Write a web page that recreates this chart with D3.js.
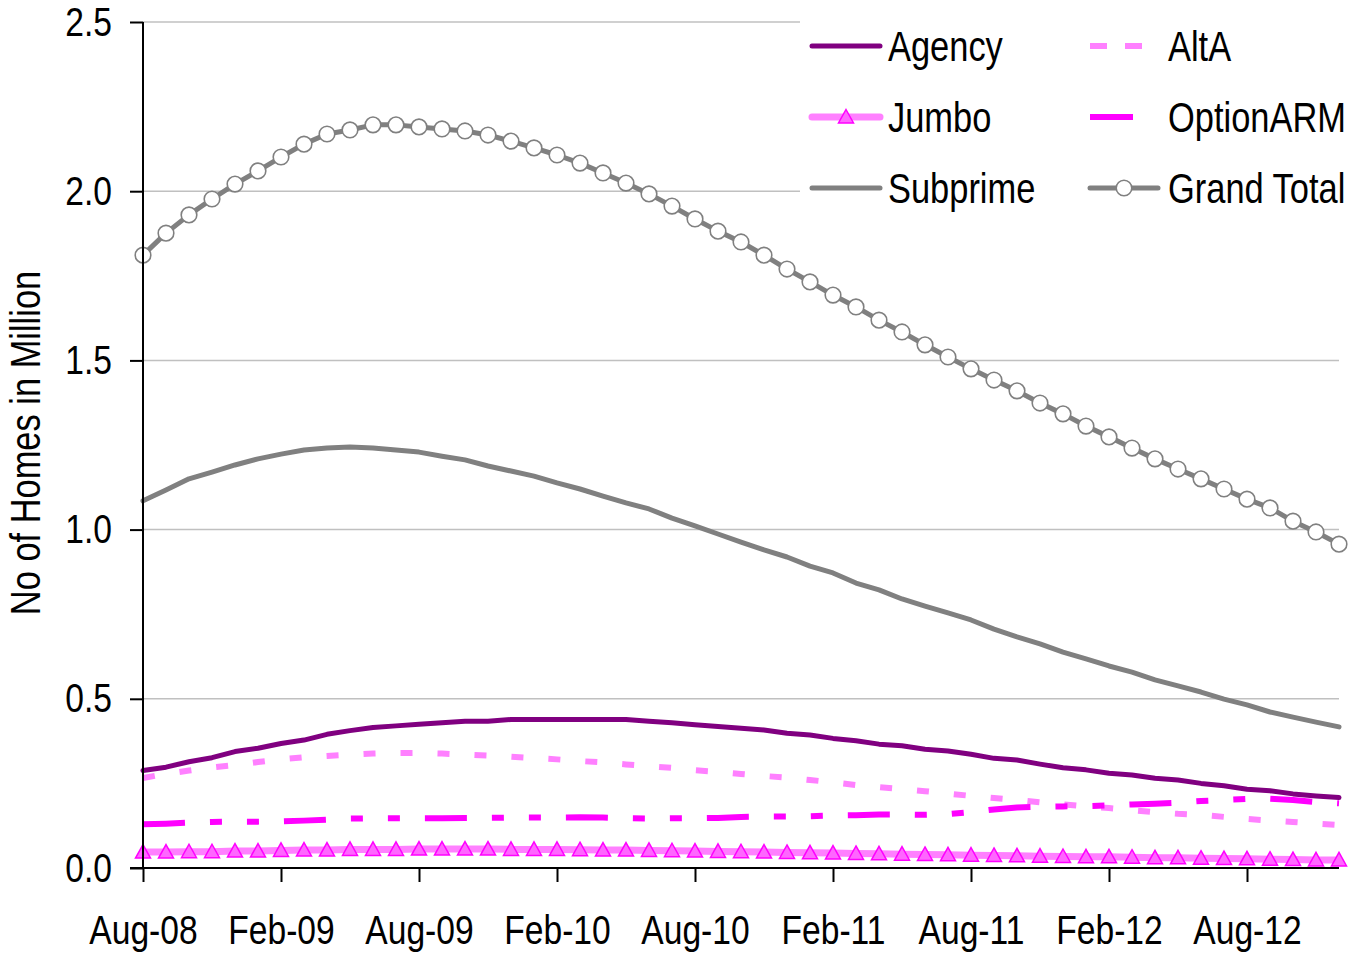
<!DOCTYPE html>
<html>
<head>
<meta charset="utf-8">
<script src="https://cdn.jsdelivr.net/npm/d3@7"></script>
<style>
  html, body { margin: 0; padding: 0; background: #fff; }
  svg text { font-family: 'Liberation Sans', Arial, sans-serif; fill: #000; }
</style>
</head>
<body>
<svg id="chart" width="1355" height="954"></svg>
<script>
// Monthly categories, Aug-08 through Dec-12
const months = [
  "Aug-08","Sep-08","Oct-08","Nov-08","Dec-08",
  "Jan-09","Feb-09","Mar-09","Apr-09","May-09","Jun-09","Jul-09","Aug-09","Sep-09","Oct-09","Nov-09","Dec-09",
  "Jan-10","Feb-10","Mar-10","Apr-10","May-10","Jun-10","Jul-10","Aug-10","Sep-10","Oct-10","Nov-10","Dec-10",
  "Jan-11","Feb-11","Mar-11","Apr-11","May-11","Jun-11","Jul-11","Aug-11","Sep-11","Oct-11","Nov-11","Dec-11",
  "Jan-12","Feb-12","Mar-12","Apr-12","May-12","Jun-12","Jul-12","Aug-12","Sep-12","Oct-12","Nov-12","Dec-12"
];

// Labelled x ticks
const xTickLabels = ["Aug-08","Feb-09","Aug-09","Feb-10","Aug-10","Feb-11","Aug-11","Feb-12","Aug-12"];
const yTicks = [0, 0.5, 1.0, 1.5, 2.0, 2.5];

// Homes (millions) by loan type
const agency = [0.288,0.298,0.314,0.326,0.344,0.354,0.368,0.378,0.395,0.406,0.415,0.420,0.425,0.429,0.434,0.434,0.439,0.439,0.439,0.439,0.439,0.439,0.434,0.429,0.423,0.418,0.413,0.408,0.398,0.393,0.383,0.376,0.366,0.361,0.351,0.346,0.336,0.324,0.319,0.307,0.296,0.290,0.280,0.275,0.265,0.260,0.250,0.243,0.233,0.228,0.219,0.213,0.208];
const altA = [0.266,0.278,0.288,0.297,0.304,0.313,0.321,0.327,0.331,0.335,0.338,0.340,0.340,0.338,0.335,0.332,0.329,0.325,0.321,0.316,0.312,0.306,0.301,0.296,0.289,0.284,0.278,0.272,0.267,0.260,0.253,0.245,0.239,0.233,0.227,0.220,0.213,0.207,0.201,0.194,0.188,0.182,0.177,0.171,0.165,0.160,0.157,0.151,0.145,0.140,0.136,0.131,0.127];
const jumbo = [0.047,0.047,0.048,0.048,0.050,0.050,0.052,0.053,0.053,0.055,0.055,0.055,0.056,0.056,0.056,0.056,0.055,0.055,0.055,0.054,0.053,0.053,0.052,0.051,0.050,0.049,0.048,0.047,0.046,0.045,0.044,0.043,0.042,0.041,0.040,0.039,0.038,0.037,0.036,0.035,0.034,0.033,0.033,0.032,0.030,0.030,0.029,0.028,0.027,0.026,0.025,0.024,0.024];
const optionARM = [0.129,0.131,0.134,0.136,0.137,0.137,0.138,0.140,0.143,0.146,0.147,0.147,0.147,0.147,0.148,0.148,0.149,0.149,0.149,0.150,0.149,0.147,0.146,0.147,0.147,0.148,0.151,0.152,0.152,0.153,0.155,0.156,0.158,0.158,0.157,0.159,0.165,0.173,0.179,0.181,0.182,0.183,0.185,0.188,0.190,0.193,0.198,0.201,0.204,0.205,0.201,0.195,0.191];
const subprime = [1.085,1.117,1.150,1.170,1.191,1.209,1.223,1.235,1.241,1.244,1.241,1.235,1.229,1.217,1.206,1.188,1.173,1.158,1.138,1.120,1.099,1.079,1.061,1.034,1.011,0.987,0.963,0.940,0.919,0.892,0.872,0.842,0.822,0.795,0.774,0.754,0.733,0.706,0.683,0.662,0.638,0.618,0.597,0.579,0.556,0.538,0.520,0.499,0.482,0.461,0.446,0.431,0.417];
const grandTotal = [1.811,1.876,1.930,1.977,2.021,2.060,2.101,2.139,2.169,2.181,2.196,2.196,2.190,2.184,2.178,2.166,2.148,2.128,2.107,2.083,2.054,2.024,1.992,1.956,1.918,1.882,1.850,1.811,1.770,1.732,1.693,1.658,1.619,1.584,1.546,1.510,1.475,1.442,1.410,1.374,1.342,1.306,1.274,1.241,1.209,1.179,1.150,1.120,1.090,1.064,1.025,0.993,0.957];

const seriesNames = ["Agency","AltA","Jumbo","OptionARM","Subprime","Grand Total"];

const styles = {
  "Agency":      { color: "#800080", width: 5, dash: null },
  "AltA":        { color: "#FF80FF", width: 6, dash: "12,25" },
  "Jumbo":       { color: "#FF80FF", width: 7, dash: null, marker: "triangle" },
  "OptionARM":   { color: "#FF00FF", width: 6, dash: "42,25,12,25,12,25" },
  "Subprime":    { color: "#808080", width: 5, dash: null },
  "Grand Total": { color: "#808080", width: 5, dash: null, marker: "circle" }
};

const seriesData = {
  "Agency": agency, "AltA": altA, "Jumbo": jumbo,
  "OptionARM": optionARM, "Subprime": subprime, "Grand Total": grandTotal
};

// Narrow type: regular sans squeezed horizontally
const NARROW = 0.82;
function narrow(sel) {
  sel.each(function () {
    const t = d3.select(this);
    const x0 = +t.attr("x") || 0, y0 = +t.attr("y") || 0;
    const pre = t.attr("data-pre") || "";
    t.attr("x", 0).attr("y", 0)
     .attr("transform", `translate(${x0},${y0}) ${pre} scale(${NARROW},1)`);
  });
}

const svg = d3.select("#chart");
const plotLeft = 143, plotRight = 1339, plotTop = 22, plotBottom = 868;

const x = d3.scalePoint().domain(months).range([plotLeft, plotRight]);
const y = d3.scaleLinear().domain([0, 2.5]).range([plotBottom, plotTop]);

// Horizontal gridlines
svg.append("g")
  .selectAll("line")
  .data(yTicks.filter(d => d > 0))
  .join("line")
  .attr("x1", plotLeft).attr("x2", plotRight)
  .attr("y1", d => y(d)).attr("y2", d => y(d))
  .attr("stroke", "#c0c0c0").attr("stroke-width", 1.5);

// Series lines
const line = d3.line().x((d, i) => x(months[i])).y(d => y(d));
const plot = svg.append("g");
seriesNames.forEach(name => {
  const s = styles[name];
  plot.append("path")
    .datum(seriesData[name])
    .attr("d", line)
    .attr("fill", "none")
    .attr("stroke", s.color)
    .attr("stroke-width", s.width)
    .attr("stroke-linejoin", "round")
    .attr("stroke-linecap", s.dash ? "butt" : "round")
    .attr("stroke-dasharray", s.dash);

  if (s.marker === "triangle") {
    plot.append("g").selectAll("path")
      .data(seriesData[name])
      .join("path")
      .attr("d", "M0,-7.5L7.5,6L-7.5,6Z")
      .attr("transform", (d, i) => `translate(${x(months[i])},${y(d)})`)
      .attr("fill", "#FF66FF")
      .attr("stroke", "#FF00FF")
      .attr("stroke-width", 1.5);
  }
  if (s.marker === "circle") {
    plot.append("g").selectAll("circle")
      .data(seriesData[name])
      .join("circle")
      .attr("cx", (d, i) => x(months[i]))
      .attr("cy", d => y(d))
      .attr("r", 7.8)
      .attr("fill", "#fff")
      .attr("stroke", "#808080")
      .attr("stroke-width", 1.6);
  }
});

// Axes
const yAxis = svg.append("g")
  .attr("transform", `translate(${plotLeft},0)`)
  .call(d3.axisLeft(y).tickValues(yTicks).tickFormat(d3.format(".1f")).tickSize(13).tickPadding(18).tickSizeOuter(0));
const xAxis = svg.append("g")
  .attr("transform", `translate(0,${plotBottom})`)
  .call(d3.axisBottom(x).tickValues(xTickLabels).tickSize(14).tickPadding(33).tickSizeOuter(0));

[yAxis, xAxis].forEach(g => {
  g.select(".domain").attr("stroke", "#000").attr("stroke-width", 2);
  g.selectAll(".tick line").attr("stroke", "#000").attr("stroke-width", 2);
  g.selectAll(".tick text").attr("font-size", 41).attr("fill", "#000").call(narrow);
});
yAxis.select(".domain").attr("d", `M0,${plotTop}V${plotBottom}`);
xAxis.select(".domain").attr("d", `M${plotLeft - 13},0H${plotRight}`);

// Y-axis title
svg.append("text")
  .attr("x", 40).attr("y", 443)
  .attr("data-pre", "rotate(-90)")
  .attr("text-anchor", "middle")
  .attr("font-size", 42)
  .text("No of Homes in Million")
  .call(narrow);

// Legend
const legend = svg.append("g");
legend.append("rect")
  .attr("x", 800).attr("y", 0).attr("width", 555).attr("height", 215)
  .attr("fill", "#fff");

const legendPos = [
  { name: "Agency",      lx: 812,  ly: 46 },
  { name: "AltA",        lx: 1090, ly: 46 },
  { name: "Jumbo",       lx: 812,  ly: 117 },
  { name: "OptionARM",   lx: 1090, ly: 117 },
  { name: "Subprime",    lx: 812,  ly: 188 },
  { name: "Grand Total", lx: 1090, ly: 188 }
];

legendPos.forEach(p => {
  const s = styles[p.name];
  const len = 68;
  const g = legend.append("g");
  g.append("line")
    .attr("x1", p.lx).attr("x2", p.lx + len)
    .attr("y1", p.ly).attr("y2", p.ly)
    .attr("stroke", s.color)
    .attr("stroke-width", s.width)
    .attr("stroke-linecap", s.dash ? "butt" : "round")
    .attr("stroke-dasharray", p.name === "AltA" ? "17,18" : (p.name === "OptionARM" ? "43,25" : null));
  if (s.marker === "triangle") {
    g.append("path")
      .attr("d", "M0,-7.5L7.5,6L-7.5,6Z")
      .attr("transform", `translate(${p.lx + len / 2},${p.ly})`)
      .attr("fill", "#FF66FF").attr("stroke", "#FF00FF").attr("stroke-width", 1.5);
  }
  if (s.marker === "circle") {
    g.append("circle")
      .attr("cx", p.lx + len / 2).attr("cy", p.ly).attr("r", 7.8)
      .attr("fill", "#fff").attr("stroke", "#808080").attr("stroke-width", 1.6);
  }
  g.append("text")
    .attr("x", p.lx + (p.lx < 1000 ? 76 : 78))
    .attr("y", p.ly)
    .attr("dy", "0.36em")
    .attr("font-size", 42)
    .text(p.name)
    .call(narrow);
});
</script>
</body>
</html>
